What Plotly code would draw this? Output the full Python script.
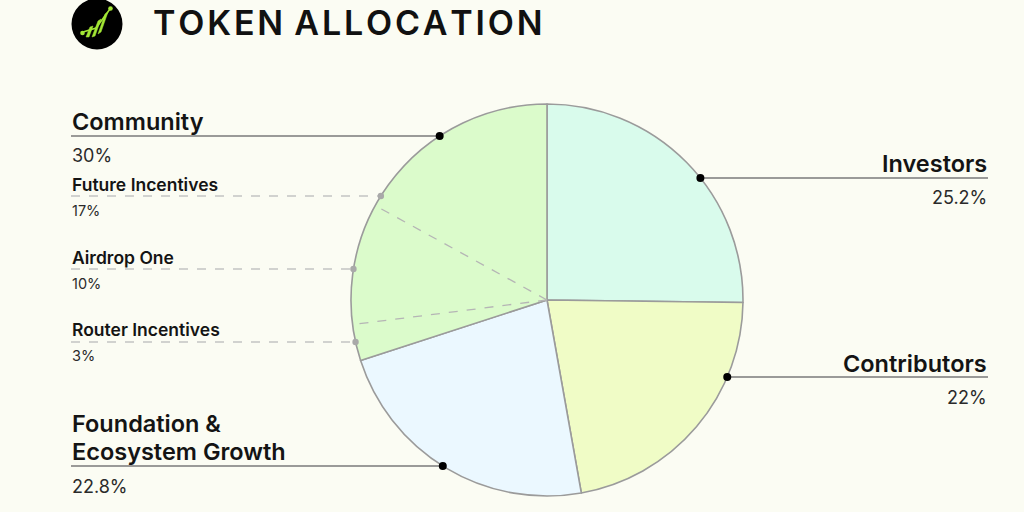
import math
import plotly.graph_objects as go

W, H = 1024, 512

# ---- data ----
categories = ["Investors", "Contributors", "Foundation &<br>Ecosystem Growth", "Community"]
values = [25.2, 22, 22.8, 30]
value_labels = ["25.2%", "22%", "22.8%", "30%"]
slice_colors = ["#d9fbec", "#f0fcc6", "#ebf8ff", "#dbfbcb"]
sub_categories = ["Router Incentives", "Airdrop One", "Future Incentives"]
sub_values = [3, 10, 17]
sub_value_labels = ["3%", "10%", "17%"]

# ---- layout geometry (pixels) ----
CX, CY, R = 547, 300, 196
BG = "#fbfcf3"
FONT = "Inter"

def pxx(x):
    return x / W

def pxy(y):
    return 1 - y / H

total = sum(values)

fig = go.Figure()
fig.add_trace(go.Pie(
    labels=[c.replace("<br>", " ") for c in categories],
    values=values,
    sort=False,
    direction="clockwise",
    rotation=0,
    textinfo="none",
    hoverinfo="skip",
    marker=dict(colors=slice_colors, line=dict(color="#9b9b9b", width=1.6)),
    domain=dict(x=[pxx(CX - R), pxx(CX + R)], y=[pxy(CY + R), pxy(CY - R)]),
    showlegend=False,
))

shapes = []
annotations = []

def circle_x(y, side):
    return CX + side * math.sqrt(max(R * R - (y - CY) ** 2, 0))

def point_at(angle_deg, rad):
    a = math.radians(angle_deg)
    return CX + rad * math.sin(a), CY - rad * math.cos(a)

# dashed sub-division lines inside the Community slice
start = sum(values[:3]) / total * 360
acc = start
for v in sub_values[:-1]:
    acc += v / total * 360
    x1, y1 = point_at(acc, R)
    shapes.append(dict(type="line", xref="paper", yref="paper",
                       x0=pxx(CX), y0=pxy(CY), x1=pxx(x1), y1=pxy(y1),
                       line=dict(color="#b5b5b5", width=1.3, dash="dash"), layer="above"))

def dot(x, y, r, color):
    shapes.append(dict(type="circle", xref="paper", yref="paper",
                       x0=pxx(x - r), x1=pxx(x + r), y0=pxy(y + r), y1=pxy(y - r),
                       fillcolor=color, line=dict(width=0), layer="above"))

def text(x, y, s, size, weight, anchor, color="#141414"):
    annotations.append(dict(xref="paper", yref="paper", x=pxx(x), y=pxy(y), text=s,
                            showarrow=False, xanchor=anchor, yanchor="middle", align=anchor,
                            font=dict(family=FONT, size=size, color=color, weight=weight)))

LEFT_X, RIGHT_X = 71, 988
LINE_GAP = 28

# main labels: (category index, side, first label line y, line y, value y)
main_layout = [
    (0, 1, 163, 178, 197),
    (1, 1, 363, 377, 397),
    (2, -1, 423, 466, 486),
    (3, -1, 121, 136, 155),
]
for idx, side, ly, liney, vy in main_layout:
    dx = circle_x(liney, side)
    if side > 0:
        x0, x1, tx, anchor = dx, RIGHT_X, RIGHT_X + 1, "right"
    else:
        x0, x1, tx, anchor = LEFT_X, dx, LEFT_X - 1, "left"
    shapes.append(dict(type="line", xref="paper", yref="paper",
                       x0=pxx(x0), x1=pxx(x1), y0=pxy(liney), y1=pxy(liney),
                       line=dict(color="#7a7a7a", width=1.6), layer="above"))
    for k, part in enumerate(categories[idx].split("<br>")):
        text(tx, ly + k * LINE_GAP, part, 23.5, 600, anchor)
    text(tx, vy, value_labels[idx], 18, 400, anchor, "#2a2a2a")
    dot(dx, liney, 4, "#000000")

# sub labels (Router, Airdrop, Future)
sub_layout = [(329, 342, 355), (257, 269, 283), (184, 196, 210)]
for i, (ly, liney, vy) in enumerate(sub_layout):
    dx = circle_x(liney, -1)
    shapes.append(dict(type="line", xref="paper", yref="paper",
                       x0=pxx(LEFT_X), x1=pxx(dx), y0=pxy(liney), y1=pxy(liney),
                       line=dict(color="#c4c4c4", width=1.3, dash="dash"), layer="above"))
    dot(dx, liney, 3.2, "#a9a9a9")
    text(LEFT_X - 1, ly, sub_categories[i], 17.5, 600, "left")
    text(LEFT_X - 1, vy, sub_value_labels[i], 14.5, 400, "left", "#2a2a2a")

# title + logo
text(151, 22, "TOKEN\u2009ALLOCATION".replace("", "\u200a").strip("\u200a"), 34, 600, "left", "#111111")
shapes.append(dict(type="circle", xref="paper", yref="paper",
                   x0=pxx(71.5), x1=pxx(122.5), y0=pxy(49.5), y1=pxy(-1.5),
                   fillcolor="#000000", line=dict(width=0), layer="above"))
LIME = "#a3e635"
logo_paths = [
    [(86, 37), (90, 27), (93, 26), (89, 37)],
    [(92, 37), (98, 21), (101, 19), (95, 36)],
    [(98, 34), (105, 14), (108, 12), (101, 32)],
]
for pts in logo_paths:
    path = "M " + " L ".join(f"{pxx(x)},{pxy(y)}" for x, y in pts) + " Z"
    shapes.append(dict(type="path", xref="paper", yref="paper", path=path,
                       fillcolor=LIME, line=dict(color=LIME, width=0.5), layer="above"))
dot(82.5, 33, 2.3, LIME)
dot(110.5, 8.5, 2.3, LIME)
shapes.append(dict(type="path", xref="paper", yref="paper",
                   path=f"M {pxx(83)},{pxy(32)} L {pxx(96)},{pxy(28)} L {pxx(110)},{pxy(9)}",
                   line=dict(color=LIME, width=1.6), layer="above"))

fig.update_layout(
    width=W, height=H,
    margin=dict(l=0, r=0, t=0, b=0),
    paper_bgcolor=BG, plot_bgcolor=BG,
    shapes=shapes, annotations=annotations,
    showlegend=False,
)
fig.write_html(
    "out.html",
    config={"displayModeBar": False},
    post_script=f"document.body.style.margin='0';document.body.style.background='{BG}';",
)
